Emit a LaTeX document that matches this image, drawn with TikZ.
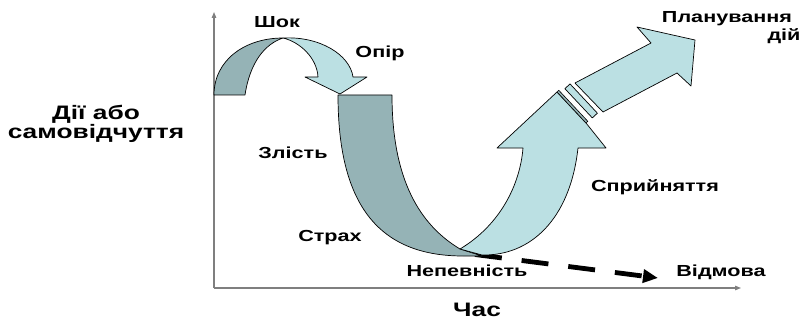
\documentclass[tikz,border=0pt]{standalone}
\usepackage{fontspec}
\setmainfont{Liberation Sans}[FakeStretch=1.35]
\usetikzlibrary{arrows.meta}
\definecolor{ribdark}{HTML}{95B3B6}
\definecolor{riblight}{HTML}{BBE0E3}
\definecolor{axisgray}{HTML}{7F7F7F}
\begin{document}
\begin{tikzpicture}[x=1pt,y=-1pt,
  lbl/.style={font=\bfseries\fontsize{16}{20}\selectfont, inner sep=0pt, anchor=base},
  biglbl/.style={lbl, font=\bfseries\fontsize{19.5}{20}\selectfont},
  ribbon/.style={draw=black, line width=0.7pt, line join=round},
  axisline/.style={draw=axisgray, line width=1.2pt, -{Triangle[length=6pt,width=4.5pt]}},
  dropout/.style={draw=black, line width=4.8pt, dash pattern=on 27pt off 20pt,
                  -{Triangle[length=15pt,width=13pt]}}]
\useasboundingbox (0,0) rectangle (804,321);

% axes
\coordinate (origin) at (214,288);
\coordinate (ytop) at (214,12);
\coordinate (xend) at (741,288);
\draw[axisline] (origin) -- (ytop);
\draw[axisline] (origin) -- (xend);

% dashed branch towards rejection
\coordinate (dstart) at (475,254.5);
\coordinate (dend) at (658,278);
\draw[dropout] (dstart) -- (dend);

% small arc: dark rising half
\path[ribbon, fill=ribdark]
  (214,95) .. controls (214,60) and (245,38) .. (283,38)
  .. controls (265,44) and (250,62) .. (245,95) -- cycle;
% small arc: light falling half with arrowhead
\path[ribbon, fill=riblight]
  (283,38) .. controls (320,36) and (350,55) .. (353,77)
  -- (367,77) -- (340,94) -- (305,77) -- (318,77)
  .. controls (317,58) and (300,42) .. (283,38) -- cycle;

% large dark descending band
\path[ribbon, fill=ribdark]
  (338,95) -- (392,95)
  .. controls (392,180) and (420,225) .. (460,249)
  -- (482,256) -- (463,256)
  .. controls (375,256) and (338,200) .. (338,95) -- cycle;

% large light rising arrow
\path[ribbon, fill=riblight]
  (460,249) .. controls (500,225) and (520,185) .. (523,148)
  -- (497,148) -- (557,92) -- (586,123) -- (606,148) -- (578,148)
  .. controls (570,220) and (530,256) .. (482,255) -- cycle;

% separating strips
\path[ribbon, fill=ribdark, line width=0.6pt]
  (557,92) -- (558.8,90.3) -- (587.8,121.3) -- (586,123) -- cycle;
\path[ribbon, fill=riblight]
  (564.9,88.7) -- (570.0,83.9) -- (597.4,113.2) -- (592.3,117.9) -- cycle;

% upper arrow: action planning
\path[ribbon, fill=riblight]
  (575,83) -- (651,43) -- (637,27) -- (695,40) -- (691,86) -- (677,73) -- (603,112) -- cycle;

% labels
\node[lbl] (shok) at (277,28) {Шок};
\node[lbl] (opir) at (380,58) {Опір};
\node[biglbl] (dii1) at (96,119) {Дії або};
\node[biglbl] (dii2) at (96,139) {самовідчуття};
\node[lbl] (zlist) at (293,158) {Злість};
\node[lbl] (strakh) at (330,241) {Страх};
\node[lbl] (nepev) at (467,276) {Непевність};
\node[lbl] (vidmova) at (721,276) {Відмова};
\node[biglbl] (chas) at (477,316) {Час};
\node[lbl] (spryin) at (655,191) {Сприйняття};
\node[lbl] (plan) at (727,23) {Планування};
\node[lbl] (diy) at (784,41) {дій};
\end{tikzpicture}
\end{document}
